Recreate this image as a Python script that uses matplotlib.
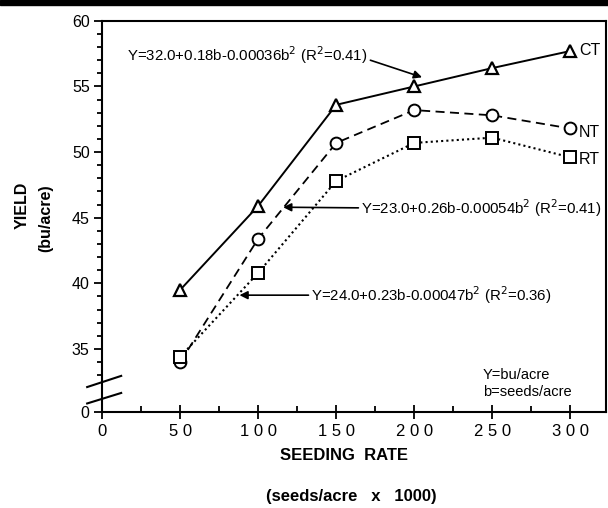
import matplotlib
matplotlib.use("Agg")
import matplotlib.pyplot as plt
from matplotlib.lines import Line2D
from matplotlib.patches import Rectangle

plt.rcParams['font.family'] = ['Liberation Sans', 'DejaVu Sans']

# ---- data ----
seeding_rate = [50, 100, 150, 200, 250, 300]
ct_yield = [39.5, 45.9, 53.6, 55.0, 56.4, 57.7]
nt_yield = [34.0, 43.4, 50.7, 53.2, 52.8, 51.8]
rt_yield = [34.4, 40.8, 47.8, 50.7, 51.1, 49.6]
series_names = ["CT", "NT", "RT"]
eq_ct = "Y=32.0+0.18b-0.00036b$^{2}$ (R$^{2}$=0.41)"
eq_nt = "Y=23.0+0.26b-0.00054b$^{2}$ (R$^{2}$=0.41)"
eq_rt = "Y=24.0+0.23b-0.00047b$^{2}$ (R$^{2}$=0.36)"
x_ticks = [0, 50, 100, 150, 200, 250, 300]
y_ticks = [35, 40, 45, 50, 55, 60]
break_pos = 30.2  # position on the axis where the broken-axis "0" sits

fig = plt.figure(figsize=(6.08, 5.08), dpi=100)
fig.patch.set_facecolor('white')
ax = fig.add_axes([0.168, 0.189, 0.829, 0.770])

ax.plot(seeding_rate, ct_yield, color='black', lw=1.4, ls='-', marker='^',
        ms=8.5, mfc='white', mec='black', mew=1.6, zorder=3)
ax.plot(seeding_rate, nt_yield, color='black', lw=1.3, ls=(0, (5, 3)), marker='o',
        ms=8.5, mfc='white', mec='black', mew=1.4, zorder=3)
ax.plot(seeding_rate, rt_yield, color='black', lw=1.5, ls=(0, (1, 1.5)), marker='s',
        ms=8.5, mfc='white', mec='black', mew=1.4, zorder=3)

ax.set_xlim(0, 323)
ax.set_ylim(break_pos, 60)

ax.set_xticks(x_ticks)
ax.set_xticklabels([" ".join(str(v)) for v in x_ticks], fontsize=12)
ax.set_xticks([25, 75, 125, 175, 225, 275], minor=True)
ax.set_yticks([break_pos] + y_ticks)
ax.set_yticklabels(["0"] + [str(v) for v in y_ticks], fontsize=11.5)
ax.set_yticks([v for v in range(33, 60) if v % 5 != 0], minor=True)

ax.tick_params(axis='x', which='major', direction='inout', length=10, width=1.3, pad=4)
ax.tick_params(axis='x', which='minor', direction='in', length=4, width=1.3)
ax.tick_params(axis='y', which='major', direction='out', length=6, width=1.3, pad=3)
ax.tick_params(axis='y', which='minor', direction='out', length=3.5, width=1.3)

for s in ax.spines.values():
    s.set_linewidth(1.5)

# axis break marks
for y0, y1 in ((32.1, 32.95), (30.85, 31.65)):
    ax.add_line(Line2D([-9.6, 12.2], [y0, y1], color='black', lw=1.5, clip_on=False))

# labels
ax.text(305.5, 57.75, "CT", fontsize=11.5, va='center', ha='left')
ax.text(305.5, 51.5, "NT", fontsize=11.5, va='center', ha='left')
ax.text(305.5, 49.4, "RT", fontsize=11.5, va='center', ha='left')

eq_fs = 10.8
ax.annotate(eq_ct, xy=(205, 55.7), xytext=(16, 57.4), fontsize=eq_fs, va='center',
            arrowprops=dict(arrowstyle='-|>', color='black', lw=1.2,
                            shrinkA=0, shrinkB=0, mutation_scale=12,
                            relpos=(1.0, 0.3)))
ax.annotate(eq_nt, xy=(116, 45.8), xytext=(166, 45.75), fontsize=eq_fs, va='center',
            arrowprops=dict(arrowstyle='-|>', color='black', lw=1.2,
                            shrinkA=0, shrinkB=0, mutation_scale=12,
                            relpos=(0.0, 0.5)))
ax.annotate(eq_rt, xy=(88, 39.1), xytext=(134, 39.1), fontsize=eq_fs, va='center',
            arrowprops=dict(arrowstyle='-|>', color='black', lw=1.2,
                            shrinkA=0, shrinkB=0, mutation_scale=12,
                            relpos=(0.0, 0.5)))

ax.text(244, 33.05, "Y=bu/acre", fontsize=10.5, va='center', ha='left')
ax.text(244, 31.7, "b=seeds/acre", fontsize=10.5, va='center', ha='left')

fig.text(344 / 608, 1 - 456 / 508, "SEEDING  RATE", fontsize=12, fontweight='bold',
         ha='center', va='center')
fig.text(351 / 608, 1 - 497 / 508, "(seeds/acre   x   1000)", fontsize=12,
         fontweight='bold', ha='center', va='center')
fig.text(22 / 608, 1 - 205 / 508, "YIELD", fontsize=11.5, fontweight='bold',
         ha='center', va='center', rotation=90)
fig.text(46 / 608, 1 - 218 / 508, "(bu/acre)", fontsize=11.5, fontweight='bold',
         ha='center', va='center', rotation=90)

# top border bar from the scan
fig.add_artist(Rectangle((0, 1 - 5 / 508), 1, 5 / 508, transform=fig.transFigure,
                         color='black', zorder=0))

fig.savefig("out.png", dpi=100, facecolor='white')
